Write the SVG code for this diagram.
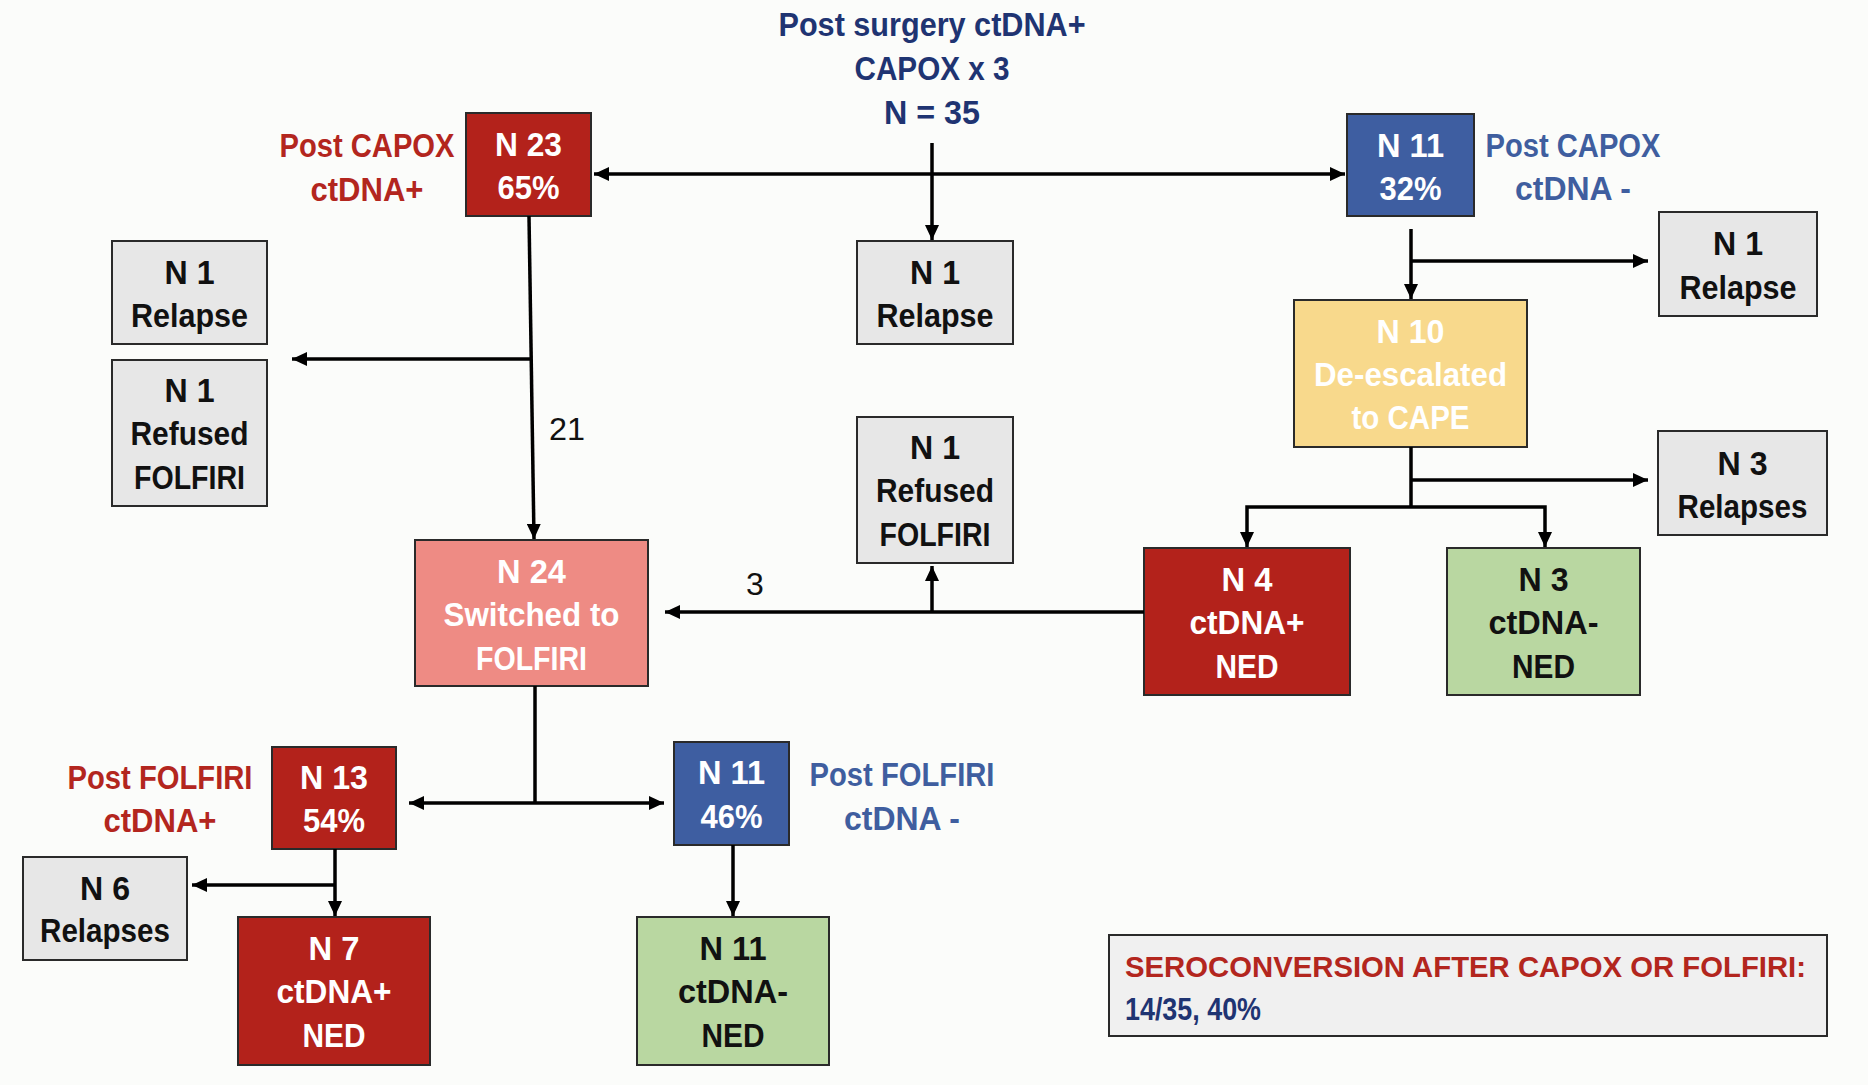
<svg xmlns="http://www.w3.org/2000/svg" width="1868" height="1085" viewBox="0 0 1868 1085">
<style>
.t{font-family:"Liberation Sans",Arial,sans-serif;font-weight:bold;font-size:33px;text-anchor:middle}
.w{fill:#ffffff}
.k{fill:#111111}
.red{fill:#B3261E}
.navy{fill:#1F3472}
.blue{fill:#3F5E9F}
.num{font-family:"Liberation Sans",Arial,sans-serif;font-size:32px;fill:#111;text-anchor:middle}
.box{stroke:#2a2a2a;stroke-width:2}
.gray{fill:#E7E7E7}
.dred{fill:#B3221B}
.bbl{fill:#3E5EA1}
.sal{fill:#EE8B84}
.yel{fill:#F8D98C}
.grn{fill:#B9D7A1}
.c{fill:none;stroke:#000;stroke-width:3.5}
</style>
<defs>
<marker id="ah" markerUnits="userSpaceOnUse" markerWidth="16" markerHeight="14" refX="15" refY="7" orient="auto-start-reverse">
<path d="M0,0 L15,7 L0,14 z" fill="#000"/>
</marker>
</defs>
<rect width="1868" height="1085" fill="#FBFCFA"/>

<g id="title">
<text class="t navy" x="932" y="36" textLength="307" lengthAdjust="spacingAndGlyphs">Post surgery ctDNA+</text>
<text class="t navy" x="932" y="80" textLength="155" lengthAdjust="spacingAndGlyphs">CAPOX x 3</text>
<text class="t navy" x="932" y="124" textLength="96" lengthAdjust="spacingAndGlyphs">N = 35</text>
</g>

<g id="lbl-postcapox-pos">
<text class="t red" x="367" y="157" textLength="175" lengthAdjust="spacingAndGlyphs">Post CAPOX</text>
<text class="t red" x="367" y="201" textLength="113" lengthAdjust="spacingAndGlyphs">ctDNA+</text>
</g>
<g id="lbl-postcapox-neg">
<text class="t blue" x="1573" y="157" textLength="175" lengthAdjust="spacingAndGlyphs">Post CAPOX</text>
<text class="t blue" x="1573" y="200" textLength="116" lengthAdjust="spacingAndGlyphs">ctDNA -</text>
</g>
<g id="lbl-postfolfiri-pos">
<text class="t red" x="160" y="789" textLength="185" lengthAdjust="spacingAndGlyphs">Post FOLFIRI</text>
<text class="t red" x="160" y="832" textLength="113" lengthAdjust="spacingAndGlyphs">ctDNA+</text>
</g>
<g id="lbl-postfolfiri-neg">
<text class="t blue" x="902" y="786" textLength="185" lengthAdjust="spacingAndGlyphs">Post FOLFIRI</text>
<text class="t blue" x="902" y="830" textLength="116" lengthAdjust="spacingAndGlyphs">ctDNA -</text>
</g>

<g id="n23">
<rect class="box dred" x="466" y="113" width="125" height="103"/>
<text class="t w" x="528.5" y="156" textLength="67" lengthAdjust="spacingAndGlyphs">N 23</text>
<text class="t w" x="528.5" y="199" textLength="62" lengthAdjust="spacingAndGlyphs">65%</text>
</g>
<g id="n11a">
<rect class="box bbl" x="1347" y="114" width="127" height="102"/>
<text class="t w" x="1410.5" y="157" textLength="67" lengthAdjust="spacingAndGlyphs">N 11</text>
<text class="t w" x="1410.5" y="200" textLength="62" lengthAdjust="spacingAndGlyphs">32%</text>
</g>
<g id="relapse-mid">
<rect class="box gray" x="857" y="241" width="156" height="103"/>
<text class="t k" x="935" y="284" textLength="50" lengthAdjust="spacingAndGlyphs">N 1</text>
<text class="t k" x="935" y="327" textLength="117" lengthAdjust="spacingAndGlyphs">Relapse</text>
</g>
<g id="relapse-left">
<rect class="box gray" x="112" y="241" width="155" height="103"/>
<text class="t k" x="189.5" y="284" textLength="50" lengthAdjust="spacingAndGlyphs">N 1</text>
<text class="t k" x="189.5" y="327" textLength="117" lengthAdjust="spacingAndGlyphs">Relapse</text>
</g>
<g id="refused-left">
<rect class="box gray" x="112" y="360" width="155" height="146"/>
<text class="t k" x="189.5" y="402" textLength="50" lengthAdjust="spacingAndGlyphs">N 1</text>
<text class="t k" x="189.5" y="445" textLength="118" lengthAdjust="spacingAndGlyphs">Refused</text>
<text class="t k" x="189.5" y="489" textLength="111" lengthAdjust="spacingAndGlyphs">FOLFIRI</text>
</g>
<g id="relapse-right">
<rect class="box gray" x="1659" y="212" width="158" height="104"/>
<text class="t k" x="1738" y="255" textLength="50" lengthAdjust="spacingAndGlyphs">N 1</text>
<text class="t k" x="1738" y="299" textLength="117" lengthAdjust="spacingAndGlyphs">Relapse</text>
</g>
<g id="n10">
<rect class="box yel" x="1294" y="300" width="233" height="147"/>
<text class="t w" x="1410.5" y="343" textLength="68" lengthAdjust="spacingAndGlyphs">N 10</text>
<text class="t w" x="1410.5" y="386" textLength="193" lengthAdjust="spacingAndGlyphs">De-escalated</text>
<text class="t w" x="1410.5" y="429" textLength="118" lengthAdjust="spacingAndGlyphs">to CAPE</text>
</g>
<g id="refused-mid">
<rect class="box gray" x="857" y="417" width="156" height="146"/>
<text class="t k" x="935" y="459" textLength="50" lengthAdjust="spacingAndGlyphs">N 1</text>
<text class="t k" x="935" y="502" textLength="118" lengthAdjust="spacingAndGlyphs">Refused</text>
<text class="t k" x="935" y="546" textLength="111" lengthAdjust="spacingAndGlyphs">FOLFIRI</text>
</g>
<g id="relapses3">
<rect class="box gray" x="1658" y="431" width="169" height="104"/>
<text class="t k" x="1742.5" y="475" textLength="50" lengthAdjust="spacingAndGlyphs">N 3</text>
<text class="t k" x="1742.5" y="518" textLength="130" lengthAdjust="spacingAndGlyphs">Relapses</text>
</g>
<g id="n24">
<rect class="box sal" x="415" y="540" width="233" height="146"/>
<text class="t w" x="531.5" y="583" textLength="69" lengthAdjust="spacingAndGlyphs">N 24</text>
<text class="t w" x="531.5" y="626" textLength="176" lengthAdjust="spacingAndGlyphs">Switched to</text>
<text class="t w" x="531.5" y="670" textLength="111" lengthAdjust="spacingAndGlyphs">FOLFIRI</text>
</g>
<g id="n4">
<rect class="box dred" x="1144" y="548" width="206" height="147"/>
<text class="t w" x="1247" y="591" textLength="51" lengthAdjust="spacingAndGlyphs">N 4</text>
<text class="t w" x="1247" y="634" textLength="115" lengthAdjust="spacingAndGlyphs">ctDNA+</text>
<text class="t w" x="1247" y="678" textLength="63" lengthAdjust="spacingAndGlyphs">NED</text>
</g>
<g id="n3">
<rect class="box grn" x="1447" y="548" width="193" height="147"/>
<text class="t k" x="1543.5" y="591" textLength="50" lengthAdjust="spacingAndGlyphs">N 3</text>
<text class="t k" x="1543.5" y="634" textLength="110" lengthAdjust="spacingAndGlyphs">ctDNA-</text>
<text class="t k" x="1543.5" y="678" textLength="63" lengthAdjust="spacingAndGlyphs">NED</text>
</g>
<g id="n13">
<rect class="box dred" x="272" y="747" width="124" height="102"/>
<text class="t w" x="334" y="789" textLength="68" lengthAdjust="spacingAndGlyphs">N 13</text>
<text class="t w" x="334" y="832" textLength="62" lengthAdjust="spacingAndGlyphs">54%</text>
</g>
<g id="n11b">
<rect class="box bbl" x="674" y="742" width="115" height="103"/>
<text class="t w" x="731.5" y="784" textLength="67" lengthAdjust="spacingAndGlyphs">N 11</text>
<text class="t w" x="731.5" y="828" textLength="62" lengthAdjust="spacingAndGlyphs">46%</text>
</g>
<g id="relapses6">
<rect class="box gray" x="23" y="857" width="164" height="103"/>
<text class="t k" x="105" y="900" textLength="50" lengthAdjust="spacingAndGlyphs">N 6</text>
<text class="t k" x="105" y="942" textLength="130" lengthAdjust="spacingAndGlyphs">Relapses</text>
</g>
<g id="n7">
<rect class="box dred" x="238" y="917" width="192" height="148"/>
<text class="t w" x="334" y="960" textLength="51" lengthAdjust="spacingAndGlyphs">N 7</text>
<text class="t w" x="334" y="1003" textLength="115" lengthAdjust="spacingAndGlyphs">ctDNA+</text>
<text class="t w" x="334" y="1047" textLength="63" lengthAdjust="spacingAndGlyphs">NED</text>
</g>
<g id="n11c">
<rect class="box grn" x="637" y="917" width="192" height="148"/>
<text class="t k" x="733" y="960" textLength="67" lengthAdjust="spacingAndGlyphs">N 11</text>
<text class="t k" x="733" y="1003" textLength="110" lengthAdjust="spacingAndGlyphs">ctDNA-</text>
<text class="t k" x="733" y="1047" textLength="63" lengthAdjust="spacingAndGlyphs">NED</text>
</g>
<g id="seroconversion">
<rect x="1109" y="935" width="718" height="101" fill="#F0F0F0" stroke="#2a2a2a" stroke-width="2"/>
<text class="t red" x="1125" y="977" style="text-anchor:start;font-size:30px" textLength="681" lengthAdjust="spacingAndGlyphs">SEROCONVERSION AFTER CAPOX OR FOLFIRI:</text>
<text class="t navy" x="1125" y="1020" style="text-anchor:start;font-size:31px" textLength="136" lengthAdjust="spacingAndGlyphs">14/35, 40%</text>
</g>

<g id="connectors">
<path class="c" d="M594,174 H1345" marker-start="url(#ah)" marker-end="url(#ah)"/>
<path class="c" d="M932,143 V240" marker-end="url(#ah)"/>
<path class="c" d="M529,216 L534,539" marker-end="url(#ah)"/>
<path class="c" d="M531,359 H292" marker-end="url(#ah)"/>
<path class="c" d="M1411,229 V299" marker-end="url(#ah)"/>
<path class="c" d="M1411,261 H1648" marker-end="url(#ah)"/>
<path class="c" d="M1411,447 V507"/>
<path class="c" d="M1411,480 H1648" marker-end="url(#ah)"/>
<path class="c" d="M1247,547 V507 H1545 V547" marker-start="url(#ah)" marker-end="url(#ah)"/>
<path class="c" d="M1144,612 H665" marker-end="url(#ah)"/>
<path class="c" d="M932,612 V566" marker-end="url(#ah)"/>
<path class="c" d="M535,686 V803"/>
<path class="c" d="M409,803 H664" marker-start="url(#ah)" marker-end="url(#ah)"/>
<path class="c" d="M335,849 V916" marker-end="url(#ah)"/>
<path class="c" d="M335,885 H192" marker-end="url(#ah)"/>
<path class="c" d="M733,845 V916" marker-end="url(#ah)"/>
</g>
<g id="edge-labels">
<text class="num" x="567" y="440" textLength="36" lengthAdjust="spacingAndGlyphs">21</text>
<text class="num" x="755" y="595">3</text>
</g>
</svg>
